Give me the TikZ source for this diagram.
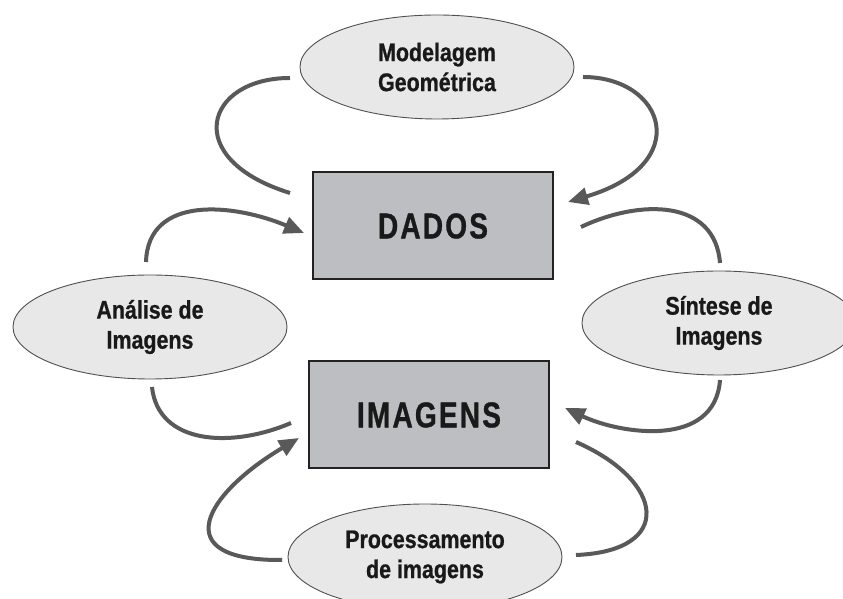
\documentclass[tikz,border=0pt]{standalone}
\usepackage{fontspec}
\setmainfont{Liberation Sans}
\newfontfamily\ovalfont{Liberation Sans}[FakeStretch=0.84,FakeBold=0.8]
\newfontfamily\boxfont{Liberation Sans}[FakeStretch=0.78,FakeBold=0.8,LetterSpace=6]
\usetikzlibrary{shapes.geometric,arrows.meta}
\definecolor{ellfill}{HTML}{E8E8E8}
\definecolor{ellline}{HTML}{505050}
\definecolor{boxfill}{HTML}{BDBEC1}
\definecolor{boxline}{HTML}{222222}
\definecolor{arrowcol}{HTML}{595959}
\begin{document}
\begin{tikzpicture}[x=1pt,y=1pt,
  oval/.style={ellipse, draw=ellline, line width=0.9pt, fill=ellfill,
    minimum width=274pt, minimum height=104pt, inner sep=0pt, align=center,
    text=black!90, font=\ovalfont\bfseries\fontsize{25.5}{30}\selectfont},
  box/.style={rectangle, draw=boxline, line width=2pt, fill=boxfill,
    minimum width=240pt, minimum height=107pt, inner sep=0pt,
    text=black!90, font=\boxfont\bfseries\fontsize{36}{40}\selectfont},
  link/.style={draw=arrowcol, line width=4pt},
  tiplink/.style={link, -{Triangle[length=20pt,width=17pt]}}]
\useasboundingbox (0,0) rectangle (843,599);
\clip (0,0) rectangle (843,599);
\fill[white] (0,0) rectangle (843,599);

\node[oval] (mod) at (437,532) {Modelagem\\Geométrica};
\node[box] (dados) at (433,373) {DADOS};
\node[oval] (anal) at (150,272) {Análise de\\Imagens};
\node[oval] (sint) at (719,276) {Síntese de\\Imagens};
\node[box] (imag) at (429,184) {IMAGENS};
\node[oval, minimum height=106pt] (proc) at (425,42) {Processamento\\de imagens};

% connector end points
\coordinate (a1s) at (290,521); \coordinate (a1e) at (290,406);
\coordinate (a2s) at (583,522); \coordinate (a2e) at (568,397);
\coordinate (a3s) at (146,337); \coordinate (a3e) at (304,366);
\coordinate (a4s) at (581,372); \coordinate (a4e) at (720,336);
\coordinate (a5s) at (152,212); \coordinate (a5e) at (291,176);
\coordinate (a6s) at (720,219); \coordinate (a6e) at (565,191);
\coordinate (a7s) at (282,39);  \coordinate (a7e) at (299,161);
\coordinate (a8s) at (576,157); \coordinate (a8e) at (576,44);

\draw[link] (a1s) .. controls (205,521) and (180,440) .. (a1e);
\draw[tiplink] (a2s) .. controls (665,522) and (695,435) .. (a2e);
\draw[tiplink] (a3s) .. controls (148,405) and (235,395) .. (a3e);
\draw[link] (a4s) .. controls (640,400) and (715,400) .. (a4e);
\draw[link] (a5s) .. controls (158,155) and (230,150) .. (a5e);
\draw[tiplink] (a6s) .. controls (715,150) and (620,165) .. (a6e);
\draw[tiplink] (a7s) .. controls (165,38) and (205,105) .. (a7e);
\draw[link] (a8s) .. controls (665,118) and (675,48) .. (a8e);
\end{tikzpicture}
\end{document}
